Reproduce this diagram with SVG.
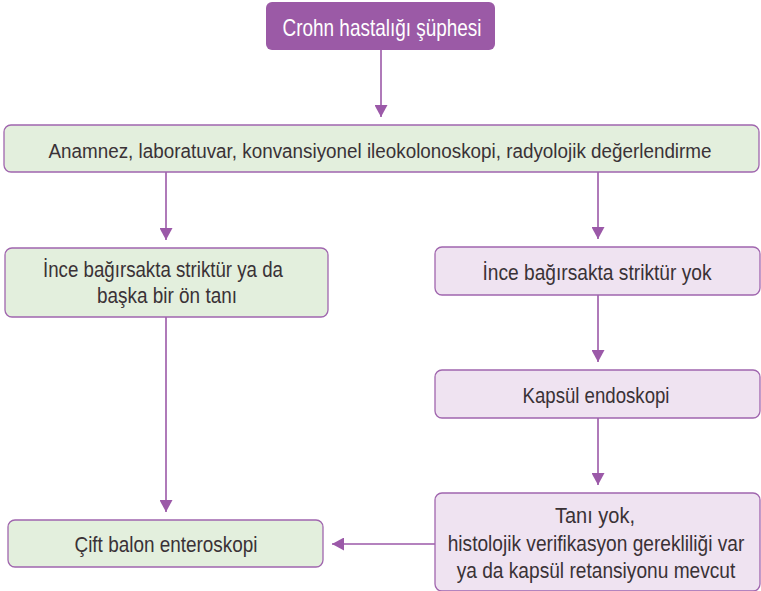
<svg xmlns="http://www.w3.org/2000/svg" width="761" height="591" viewBox="0 0 761 591">
  <style>
    .box { stroke: #a066ae; stroke-width: 1.3; }
    .green { fill: #e3efdd; }
    .lilac { fill: #efe3f1; }
    .t { font-family: "Liberation Sans", Arial, sans-serif; font-size: 22px; fill: #3a3236; text-anchor: middle; }
    .small { font-size: 20px; }
    .tw { fill: #ffffff; font-size: 24px; }
    .edge { stroke: #9b59a8; stroke-width: 1.6; fill: none; }
  </style>
  <defs>
    <marker id="arrow" viewBox="0 0 12 13" refX="12" refY="6.5" markerWidth="12" markerHeight="13" markerUnits="userSpaceOnUse" orient="auto">
      <path d="M0,0 L12,6.5 L0,13 Z" fill="#9b59a8"/>
    </marker>
  </defs>

  <g id="connectors">
    <line class="edge" x1="381" y1="50" x2="381" y2="117" marker-end="url(#arrow)"/>
    <line class="edge" x1="166" y1="172" x2="166" y2="240" marker-end="url(#arrow)"/>
    <line class="edge" x1="598" y1="172" x2="598" y2="239" marker-end="url(#arrow)"/>
    <line class="edge" x1="166" y1="317" x2="166" y2="512" marker-end="url(#arrow)"/>
    <line class="edge" x1="598" y1="295" x2="598" y2="362" marker-end="url(#arrow)"/>
    <line class="edge" x1="598" y1="418" x2="598" y2="485" marker-end="url(#arrow)"/>
    <line class="edge" x1="435" y1="544" x2="332" y2="544" marker-end="url(#arrow)"/>
  </g>

  <g id="suspicion">
    <rect x="266" y="2" width="229" height="48" rx="6" fill="#9b5aa6"/>
    <text class="t tw" x="382" y="36" textLength="199" lengthAdjust="spacingAndGlyphs">Crohn hastalığı şüphesi</text>
  </g>

  <g id="workup">
    <rect class="box green" x="4" y="125" width="755" height="47" rx="7"/>
    <text class="t small" x="380" y="158" textLength="663" lengthAdjust="spacingAndGlyphs">Anamnez, laboratuvar, konvansiyonel ileokolonoskopi, radyolojik değerlendirme</text>
  </g>

  <g id="stricture">
    <rect class="box green" x="5" y="248" width="323" height="69" rx="7"/>
    <text class="t" x="163" y="277" textLength="240" lengthAdjust="spacingAndGlyphs">İnce bağırsakta striktür ya da</text>
    <text class="t" x="167" y="303" textLength="140" lengthAdjust="spacingAndGlyphs">başka bir ön tanı</text>
  </g>

  <g id="no-stricture">
    <rect class="box lilac" x="435" y="247" width="325" height="48" rx="7"/>
    <text class="t" x="597" y="280" textLength="229" lengthAdjust="spacingAndGlyphs">İnce bağırsakta striktür yok</text>
  </g>

  <g id="capsule">
    <rect class="box lilac" x="435" y="370" width="325" height="48" rx="7"/>
    <text class="t" x="596" y="403" textLength="147" lengthAdjust="spacingAndGlyphs">Kapsül endoskopi</text>
  </g>

  <g id="no-diagnosis">
    <rect class="box lilac" x="435" y="493" width="325" height="98" rx="7"/>
    <text class="t" x="595" y="523" textLength="80" lengthAdjust="spacingAndGlyphs">Tanı yok,</text>
    <!-- the two long lines are narrowed by a horizontal scale -->
    <g transform="translate(596,551) scale(0.87,1)">
      <text class="t" x="0" y="0">histolojik verifikasyon gerekliliği var</text>
    </g>
    <g transform="translate(596,578) scale(0.87,1)">
      <text class="t" x="0" y="0">ya da kapsül retansiyonu mevcut</text>
    </g>
  </g>

  <g id="balloon">
    <rect class="box green" x="8" y="520" width="315" height="47" rx="7"/>
    <text class="t" x="166" y="552" textLength="183" lengthAdjust="spacingAndGlyphs">Çift balon enteroskopi</text>
  </g>
</svg>
